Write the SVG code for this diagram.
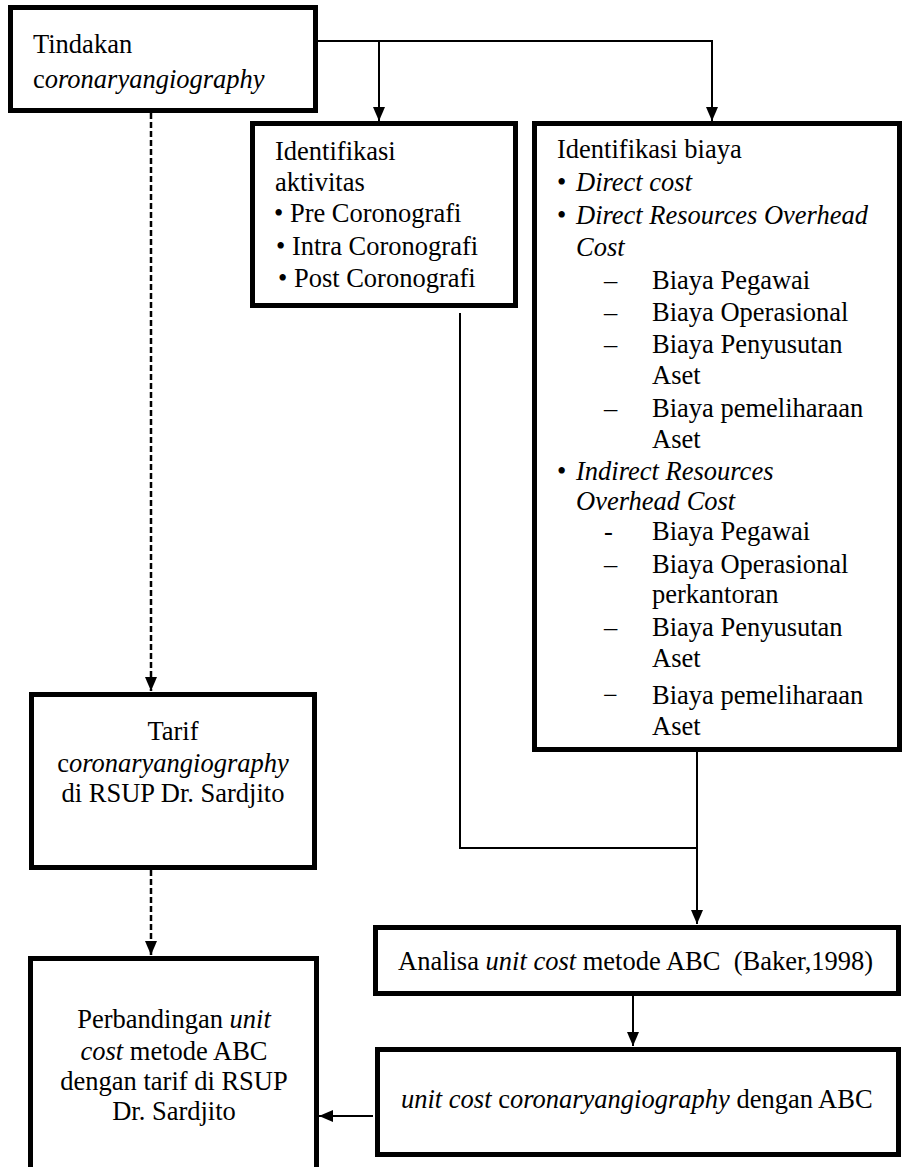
<svg xmlns="http://www.w3.org/2000/svg" width="902" height="1167" viewBox="0 0 902 1167">
<defs>
<marker id="ah" viewBox="0 0 14 12" refX="14" refY="6" markerWidth="14" markerHeight="12" orient="auto" markerUnits="userSpaceOnUse"><path d="M0,0 L14,6 L0,12 z" fill="#000"/></marker>
<style>
.box{fill:#fff;stroke:#000;stroke-width:5}
.t{font-family:"Liberation Serif","Times New Roman",serif;font-size:26.5px;fill:#000}
.i{font-style:italic}
.c{text-anchor:middle}
.ln{fill:none;stroke:#000;stroke-width:2}
.dl{fill:none;stroke:#000;stroke-width:2.5;stroke-dasharray:6 3}
</style>
</defs>
<rect width="902" height="1167" fill="#fff"/>
<g id="connectors">
<path class="ln" d="M318,41 H712 V121" marker-end="url(#ah)"/>
<path class="ln" d="M379,41 V121" marker-end="url(#ah)"/>
<path class="dl" d="M151,113 V691" marker-end="url(#ah)"/>
<path class="dl" d="M151,870 V955" marker-end="url(#ah)"/>
<path class="ln" d="M460,313 V848 H697"/>
<path class="ln" d="M697,752 V924" marker-end="url(#ah)"/>
<path class="ln" d="M633,995 V1046" marker-end="url(#ah)"/>
<path class="ln" d="M373,1116 H319" marker-end="url(#ah)"/>
</g>
<g id="tindakan">
<rect class="box" x="10.5" y="7.5" width="305" height="103"/>
<text class="t" x="33" y="53">Tindakan</text>
<text class="t" x="33" y="88">c<tspan class="i">oronaryangiography</tspan></text>
</g>
<g id="aktivitas">
<rect class="box" x="252.5" y="123.5" width="263" height="182"/>
<text class="t" x="275" y="160">Identifikasi</text>
<text class="t" x="275" y="191">aktivitas</text>
<text class="t" x="274" y="222">• Pre Coronografi</text>
<text class="t" x="276" y="255">• Intra Coronografi</text>
<text class="t" x="278" y="287">• Post Coronografi</text>
</g>
<g id="biaya">
<rect class="box" x="534.5" y="123.5" width="365" height="626"/>
<text class="t" x="557" y="158">Identifikasi biaya</text>
<text class="t" x="557" y="191">•</text><text class="t i" x="576" y="191">Direct cost</text>
<text class="t" x="557" y="224">•</text><text class="t i" x="576" y="224">Direct Resources Overhead</text>
<text class="t i" x="576" y="256">Cost</text>
<text class="t" x="604" y="289">–</text><text class="t" x="652" y="289">Biaya Pegawai</text>
<text class="t" x="604" y="321">–</text><text class="t" x="652" y="321">Biaya Operasional</text>
<text class="t" x="604" y="353">–</text><text class="t" x="652" y="353">Biaya Penyusutan</text>
<text class="t" x="652" y="384">Aset</text>
<text class="t" x="604" y="417">–</text><text class="t" x="652" y="417">Biaya pemeliharaan</text>
<text class="t" x="652" y="448">Aset</text>
<text class="t" x="557" y="480">•</text><text class="t i" x="576" y="480">Indirect Resources</text>
<text class="t i" x="576" y="510">Overhead Cost</text>
<text class="t" x="604" y="540">-</text><text class="t" x="652" y="540">Biaya Pegawai</text>
<text class="t" x="604" y="573">–</text><text class="t" x="652" y="573">Biaya Operasional</text>
<text class="t" x="652" y="603">perkantoran</text>
<text class="t" x="604" y="636">–</text><text class="t" x="652" y="636">Biaya Penyusutan</text>
<text class="t" x="652" y="667">Aset</text>
<text class="t" x="603" y="704">−</text><text class="t" x="652" y="704">Biaya pemeliharaan</text>
<text class="t" x="652" y="735">Aset</text>
</g>
<g id="tarif">
<rect class="box" x="31.5" y="694.5" width="283" height="173"/>
<text class="t c" x="173" y="740">Tarif</text>
<text class="t c" x="173" y="772">c<tspan class="i">oronaryangiography</tspan></text>
<text class="t c" x="173" y="802">di RSUP Dr. Sardjito</text>
</g>
<g id="perbandingan">
<rect class="box" x="30.5" y="958.5" width="286" height="300"/>
<text class="t c" x="174" y="1028">Perbandingan <tspan class="i">unit</tspan></text>
<text class="t c" x="174" y="1060"><tspan class="i">cost</tspan> metode ABC</text>
<text class="t c" x="174" y="1090">dengan tarif di RSUP</text>
<text class="t c" x="174" y="1120">Dr. Sardjito</text>
</g>
<g id="analisa">
<rect class="box" x="375.5" y="927.5" width="523" height="66"/>
<text class="t" x="398" y="970" xml:space="preserve">Analisa <tspan class="i">unit cost</tspan> metode ABC  (Baker,1998)</text>
</g>
<g id="unitcost">
<rect class="box" x="377.5" y="1049.5" width="521" height="105"/>
<text class="t" x="401" y="1108"><tspan class="i">unit cost</tspan> c<tspan class="i">oronaryangiography</tspan> dengan ABC</text>
</g>
</svg>
